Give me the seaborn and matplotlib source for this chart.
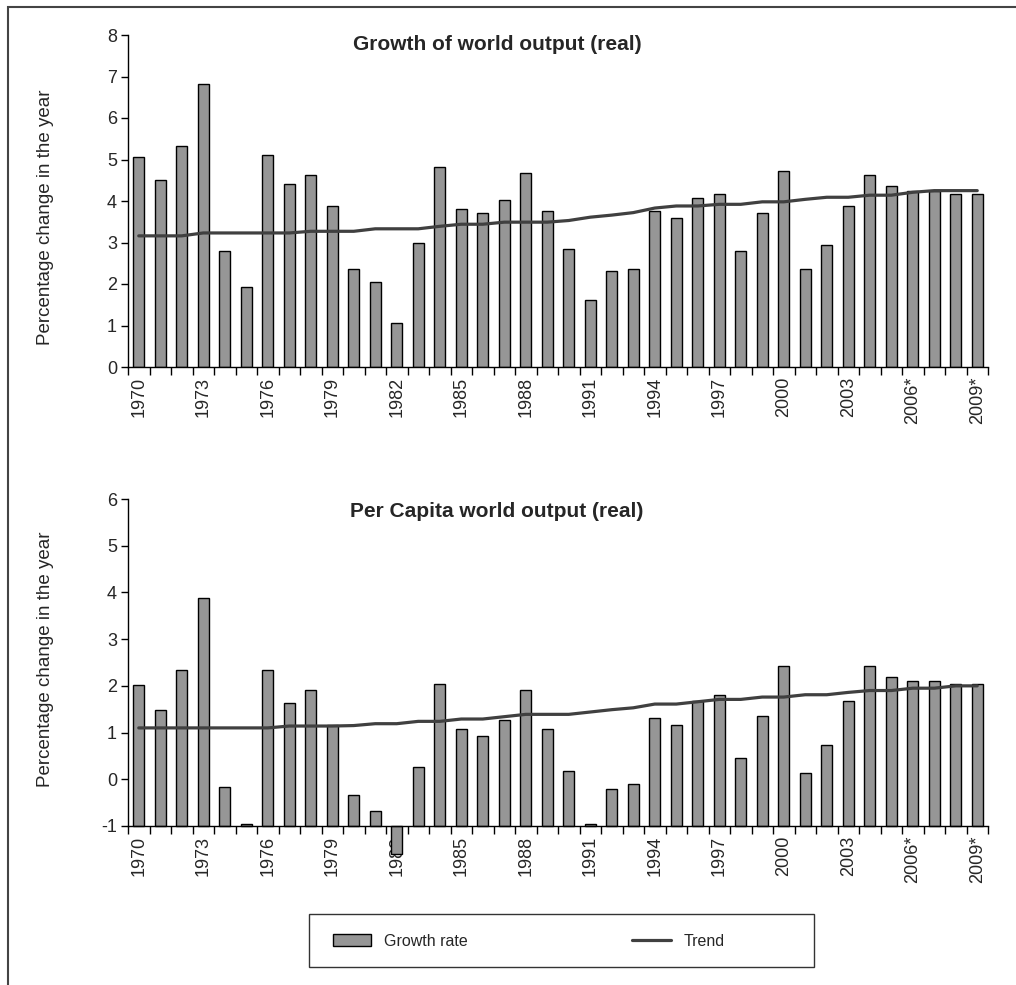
import numpy as np
import pandas as pd
import matplotlib
matplotlib.use('Agg')
import matplotlib.pyplot as plt
from matplotlib.patches import Patch, Rectangle
from matplotlib.lines import Line2D
import seaborn as sns

# dados
anos = [str(a) for a in range(1970, 2010)]
rotulos = ['1970', '1973', '1976', '1979', '1982', '1985', '1988', '1991',
           '1994', '1997', '2000', '2003', '2006*', '2009*']

crescimento = [5.05, 4.51, 5.32, 6.82, 2.79, 1.93, 5.10, 4.40, 4.62, 3.87,
               2.36, 2.04, 1.06, 3.00, 4.83, 3.80, 3.70, 4.02, 4.67, 3.76,
               2.85, 1.61, 2.31, 2.36, 3.76, 3.60, 4.08, 4.18, 2.79, 3.70,
               4.72, 2.36, 2.95, 3.87, 4.62, 4.35, 4.24, 4.24, 4.18, 4.18]
tendencia = [3.16, 3.16, 3.16, 3.23, 3.23, 3.23, 3.23, 3.23, 3.27, 3.27,
             3.27, 3.33, 3.33, 3.33, 3.39, 3.44, 3.44, 3.49, 3.49, 3.49,
             3.53, 3.61, 3.66, 3.72, 3.83, 3.88, 3.88, 3.92, 3.92, 3.98,
             3.98, 4.04, 4.09, 4.09, 4.14, 4.14, 4.21, 4.25, 4.25, 4.25]

per_capita = [2.01, 1.49, 2.34, 3.89, -0.16, -0.96, 2.34, 1.63, 1.91, 1.16,
              -0.34, -0.67, -1.61, 0.27, 2.05, 1.07, 0.93, 1.26, 1.91, 1.07,
              0.17, -0.96, -0.20, -0.11, 1.31, 1.16, 1.67, 1.81, 0.46, 1.35,
              2.43, 0.13, 0.74, 1.67, 2.43, 2.19, 2.10, 2.10, 2.05, 2.05]
tendencia_pc = [1.10, 1.10, 1.10, 1.10, 1.10, 1.10, 1.10, 1.14, 1.14, 1.14,
                1.15, 1.19, 1.19, 1.24, 1.24, 1.29, 1.29, 1.34, 1.39, 1.39,
                1.39, 1.44, 1.49, 1.53, 1.61, 1.61, 1.66, 1.71, 1.71, 1.76,
                1.76, 1.81, 1.81, 1.86, 1.90, 1.90, 1.95, 1.95, 2.00, 2.00]

COR_BARRA = '#969696'
COR_LINHA = '#404040'

sns.set_theme(style='white')
plt.rcParams['font.family'] = ['Liberation Sans', 'DejaVu Sans']
plt.rcParams['axes.edgecolor'] = 'black'
plt.rcParams['axes.linewidth'] = 1.0

W, H = 1016, 985
fig = plt.figure(figsize=(W / 100, H / 100), dpi=100)

df = pd.DataFrame({'ano': anos, 'crescimento': crescimento, 'tendencia': tendencia,
                   'per_capita': per_capita, 'tendencia_pc': tendencia_pc})
pos = np.arange(len(anos))


def montar_eixo(ax, ymin, ymax, titulo, titulo_y, label_y):
    ax.set_xlim(-0.5, len(anos) - 0.5)
    ax.set_ylim(ymin, ymax)
    ax.set_yticks(range(ymin, ymax + 1))
    ax.set_yticklabels([str(v) for v in range(ymin, ymax + 1)])
    ax.tick_params(axis='y', which='major', direction='out', length=5, width=1,
                   color='black', labelsize=13, pad=3, left=True)
    # ticks nas divisões das categorias, rótulos no centro
    ax.set_xticks(np.arange(-0.5, len(anos)), minor=False)
    ax.set_xticklabels([''] * (len(anos) + 1))
    ax.set_xticks(pos[::3], minor=True)
    ax.set_xticklabels(rotulos, minor=True, rotation=90)
    ax.tick_params(axis='x', which='major', direction='out', length=6, width=1,
                   color='black', bottom=True)
    ax.tick_params(axis='x', which='minor', length=0, labelsize=13, pad=7)
    sns.despine(ax=ax)
    ax.set_xlabel('')
    ax.set_ylabel('Percentage change in the year', fontsize=13.5)
    ax.yaxis.set_label_coords(-0.086, label_y)
    ax.text(0.429, titulo_y, titulo, transform=ax.transAxes, ha='center', va='center',
            fontsize=15, fontweight='bold')


# Gráfico 1: crescimento da produção mundial
ax1 = fig.add_axes([128 / W, 1 - 367 / H, 860 / W, 332 / H])
sns.barplot(data=df, x='ano', y='crescimento', color=COR_BARRA, saturation=1,
            edgecolor='black', linewidth=1, width=0.52, ax=ax1)
sns.lineplot(x=pos, y=df['tendencia'], color=COR_LINHA, linewidth=2.3, ax=ax1)
montar_eixo(ax1, 0, 8, 'Growth of world output (real)', 0.97, 0.45)

# Gráfico 2: produção mundial per capita (barras partem de -1)
ax2 = fig.add_axes([128 / W, 1 - 826 / H, 860 / W, 327 / H])
base = -1
sns.barplot(x=df['ano'], y=df['per_capita'] - base, bottom=base, color=COR_BARRA,
            saturation=1, edgecolor='black', linewidth=1, width=0.52, clip_on=False, ax=ax2)
sns.lineplot(x=pos, y=df['tendencia_pc'], color=COR_LINHA, linewidth=2.3, ax=ax2)
montar_eixo(ax2, -1, 6, 'Per Capita world output (real)', 0.963, 0.51)

# legenda
handles = [Patch(facecolor=COR_BARRA, edgecolor='black', linewidth=1),
           Line2D([], [], color=COR_LINHA, linewidth=2.3)]
fig.legend(handles, ['Growth rate', 'Trend'], loc='center left',
           bbox_to_anchor=(333 / W, 1 - 941 / H), ncol=2, frameon=False,
           fontsize=11.5, borderpad=0, borderaxespad=0, handlelength=2.4,
           handleheight=0.7, handletextpad=0.8, columnspacing=10.3)
fig.patches.append(Rectangle((309 / W, 1 - 967 / H), 505 / W, 53 / H, fill=False,
                             edgecolor='#333333', linewidth=1, transform=fig.transFigure))
# moldura da figura
fig.patches.append(Rectangle((8 / W, -0.1), 1.2, 1.1 - 7 / H, fill=False,
                             edgecolor='#444444', linewidth=1.5, transform=fig.transFigure))

fig.savefig('out.png', dpi=100)
